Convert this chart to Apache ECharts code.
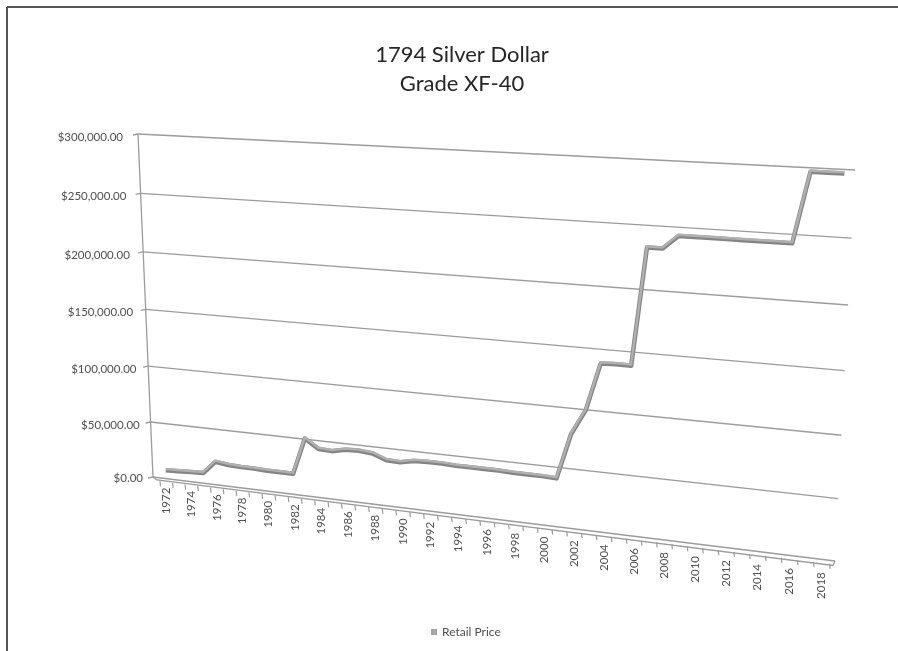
<!DOCTYPE html>
<html>
<head>
<meta charset="utf-8">
<script src="https://cdn.jsdelivr.net/npm/echarts/dist/echarts.min.js"></script>
<style>
    html, body { margin: 0; padding: 0; background: #fff; }
    #chart { width: 898px; height: 651px; }
</style>
</head>
<body>
<div id="chart"></div>
<script>
const years = ['1972', '1973', '1974', '1975', '1976', '1977', '1978', '1979', '1980', '1981',
    '1982', '1983', '1984', '1985', '1986', '1987', '1988', '1989', '1990', '1991',
    '1992', '1993', '1994', '1995', '1996', '1997', '1998', '1999', '2000', '2001',
    '2002', '2003', '2004', '2005', '2006', '2007', '2008', '2009', '2010', '2011',
    '2012', '2013', '2014', '2015', '2016', '2017', '2018', '2019']
const prices = [8000, 8500, 9000, 9500, 21000, 19500, 19000, 19000, 18500, 18500,
    18500, 51000, 43000, 42500, 45000, 45500, 44500, 40000, 39500, 42000,
    42500, 42500, 42000, 42000, 42000, 42000, 41500, 41500, 41500, 41000,
    79000, 100000, 139000, 139500, 139500, 233500, 233500, 244000, 244000, 244000,
    244000, 244000, 244000, 244000, 244000, 298000, 298000, 298000]
const yTicks = [0, 50000, 100000, 150000, 200000, 250000, 300000]

// 3D look: unit square of the hidden grid -> skewed quad (bl, br, tr, tl)
function quad(bl, br, tr, tl) {
    const [x0, y0] = bl, [x1, y1] = br, [x2, y2] = tr, [x3, y3] = tl
    const dx1 = x1 - x2, dx2 = x3 - x2, dx3 = x0 - x1 + x2 - x3
    const dy1 = y1 - y2, dy2 = y3 - y2, dy3 = y0 - y1 + y2 - y3
    const den = dx1 * dy2 - dx2 * dy1
    const g = (dx3 * dy2 - dx2 * dy3) / den
    const h = (dx1 * dy3 - dx3 * dy1) / den
    const a = x1 - x0 + g * x1, b = x3 - x0 + h * x3
    const d = y1 - y0 + g * y1, e = y3 - y0 + h * y3
    return (s, t) => {
        const w = g * s + h * t + 1
        return [(a * s + b * t + x0) / w, (d * s + e * t + y0) / w]
    }
}
const wall = quad([153, 477], [835, 561], [855, 170], [138, 134])
const plane = quad([160, 477], [842, 561], [853, 170], [140, 134])

function unit(params, api, i, v) {
    const cs = params.coordSys
    const p = api.coord([i, v])
    return [(p[0] - cs.x) / cs.width, (cs.y + cs.height - p[1]) / cs.height]
}
function y0At(x) {
    const a = wall(0, 0), b = wall(1, 0)
    return a[1] + (x - a[0]) * (b[1] - a[1]) / (b[0] - a[0])
}
function money(v) {
    return '$' + v.toFixed(2).replace(/\B(?=(\d{3})+(?!\d))/g, ',')
}

const gray = '#9c9c9c'
const labelFont = '11.5px Lato, "Open Sans", sans-serif'

const chart = echarts.init(document.getElementById('chart'))
chart.setOption({
    animation: false,
    grid: { left: 100, top: 100, width: 480, height: 300, show: false },
    xAxis: { type: 'category', data: years, show: false },
    yAxis: { type: 'value', min: 0, max: 300000, interval: 50000, show: false },
    legend: {
        data: [{ name: 'Retail Price', icon: 'rect' }],
        left: 426,
        top: 621,
        itemWidth: 6,
        itemHeight: 6,
        itemGap: 5,
        selectedMode: false,
        textStyle: { fontFamily: 'Lato', fontSize: 12, color: '#4f4f4f' }
    },
    graphic: [
        { type: 'line', shape: { x1: 7, y1: 7, x2: 898, y2: 7 }, style: { stroke: '#555', lineWidth: 2 } },
        { type: 'line', shape: { x1: 7, y1: 7, x2: 7, y2: 651 }, style: { stroke: '#555', lineWidth: 2 } },
        {
            type: 'text', x: 462, y: 40,
            style: {
                text: '1794 Silver Dollar\nGrade XF-40',
                align: 'center', verticalAlign: 'top', lineHeight: 29,
                font: '22px Lato, "Open Sans", sans-serif', fill: '#262626'
            }
        }
    ],
    series: [
        {
            // back wall gridlines + value axis
            name: 'wall',
            type: 'custom',
            silent: true,
            clip: false,
            data: yTicks.map(v => [0, v]),
            renderItem(params, api) {
                const v = api.value(1)
                const t = unit(params, api, 0, v)[1]
                const a = wall(0, t), b = wall(1, t)
                const kids = [
                    { type: 'line', shape: { x1: a[0], y1: a[1], x2: b[0], y2: b[1] }, style: { stroke: gray, lineWidth: 1.3 } },
                    { type: 'line', shape: { x1: a[0] - 5, y1: a[1] + 1, x2: a[0], y2: a[1] }, style: { stroke: gray, lineWidth: 1.3 } },
                    {
                        type: 'text', x: a[0] - 10 - 5 * t, y: a[1] + (v ? 3 : 1),
                        style: { text: money(v), align: 'right', verticalAlign: 'middle', font: labelFont, fill: '#4f4f4f' }
                    }
                ]
                if (params.dataIndex === 0) {
                    const top = wall(0, 1)
                    kids.push({ type: 'line', shape: { x1: a[0], y1: a[1], x2: top[0], y2: top[1] }, style: { stroke: gray, lineWidth: 1.3 } })
                }
                return { type: 'group', children: kids }
            }
        },
        {
            // floor edge, ticks and year labels
            name: 'floor',
            type: 'custom',
            silent: true,
            clip: false,
            data: years.map((y, i) => [i, 0]),
            renderItem(params, api) {
                const i = api.value(0)
                const s = unit(params, api, i, 0)[0]
                const half = api.size([1, 0])[0] / params.coordSys.width / 2
                const kids = []
                const x0 = plane(s - half, 0)[0] + 4 * (s - half)
                const ty = y0At(x0) + 3.5
                kids.push({ type: 'line', shape: { x1: x0, y1: ty, x2: x0 + 0.5, y2: ty + 5 }, style: { stroke: gray, lineWidth: 1.2 } })
                if (i % 2 === 0) {
                    const x = plane(s, 0)[0] + 4 * s
                    kids.push({
                        type: 'text', x: x, y: y0At(x) + 9 + 4 * s, rotation: Math.PI / 2,
                        style: { text: years[i], align: 'right', verticalAlign: 'middle', font: labelFont, fill: '#4f4f4f' }
                    })
                }
                if (i === 0) {
                    const f = ss => { const p = wall(ss, 0); return [p[0] + 4 - 6 * ss, p[1] + 3 + 1.5 * ss] }
                    kids.push({
                        type: 'polyline',
                        shape: { points: [wall(0, 0), f(0), f(1), wall(1, 0)] },
                        style: { stroke: gray, lineWidth: 1.3, fill: null }
                    })
                }
                return { type: 'group', children: kids }
            }
        },
        {
            name: 'Retail Price',
            type: 'custom',
            silent: true,
            clip: false,
            itemStyle: { color: '#a6a6a6' },
            data: prices.map((v, i) => [i, v]),
            renderItem(params, api) {
                if (params.dataIndex !== 0) return
                const pts = prices.map((v, i) => {
                    const [s, t] = unit(params, api, i, v)
                    return plane(s, t)
                })
                return {
                    type: 'group',
                    children: [
                        { type: 'polyline', shape: { points: pts.map(p => [p[0], p[1] + 1.2]) }, style: { stroke: '#858585', lineWidth: 4.5, fill: null, lineJoin: 'round' } },
                        { type: 'polyline', shape: { points: pts }, style: { stroke: '#b0b0b0', lineWidth: 2.5, fill: null, lineJoin: 'round' } }
                    ]
                }
            }
        }
    ]
})
</script>
</body>
</html>
